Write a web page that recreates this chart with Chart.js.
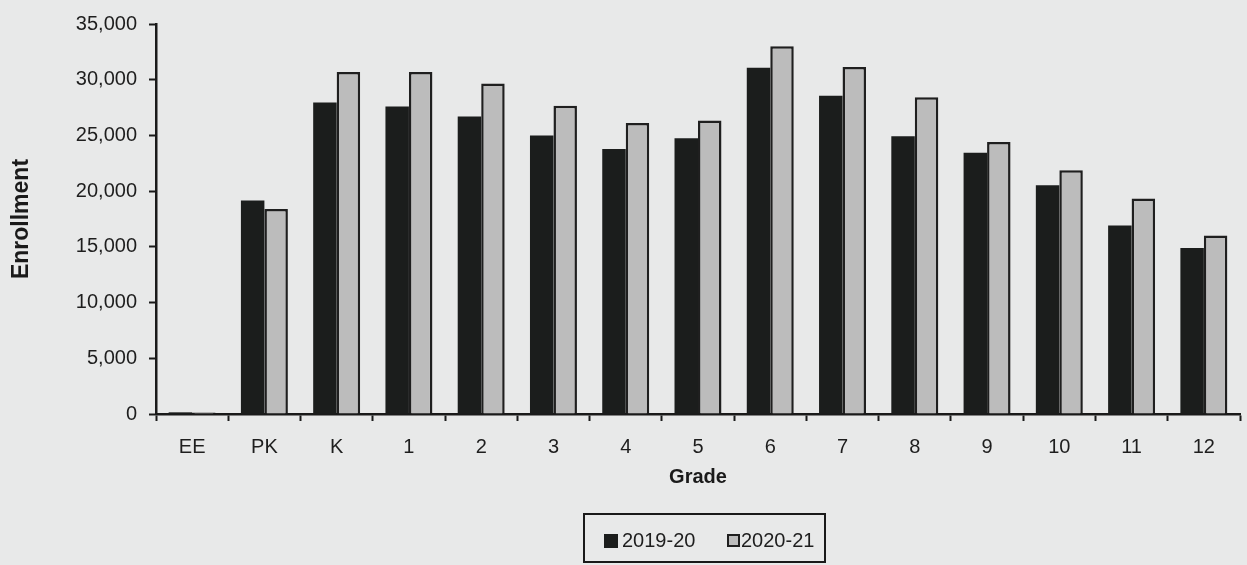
<!DOCTYPE html>
<html>
<head>
<meta charset="utf-8">
<title>Enrollment by Grade</title>
<script src="https://cdn.jsdelivr.net/npm/chart.js@4.4.1/dist/chart.umd.min.js"></script>
<style>
  html, body { margin: 0; padding: 0; background: #e8e9e9; }
  #wrap { position: relative; width: 1247px; height: 565px; }
  #grafico { position: absolute; left: 0; top: 0; }
  .legenda {
    position: absolute; left: 583px; top: 513px; width: 243px; height: 50px;
    border: 2px solid #1a1a1a; box-sizing: border-box;
    font-family: 'Liberation Sans', Arial, sans-serif;
    font-size: 20px; color: #1e1e1e; white-space: nowrap;
  }
  .legenda .caixa { position: absolute; top: 19px; width: 14px; height: 14px; box-sizing: border-box; }
  .legenda .txt { position: absolute; top: 13px; line-height: 24px; }
</style>
</head>
<body>
<div id="wrap">
  <canvas id="grafico" width="1247" height="565"></canvas>
  <div class="legenda">
    <span class="caixa" style="left:19px;background:#1b1d1c;"></span>
    <span class="txt" style="left:37px;">2019-20</span>
    <span class="caixa" style="left:142px;background:#bcbcbc;border:2px solid #1f1f1f;width:13px;height:13px;"></span>
    <span class="txt" style="left:156px;">2020-21</span>
  </div>
</div>
<script>
// dados do gráfico
const grades = ['EE', 'PK', 'K', '1', '2', '3', '4', '5', '6', '7', '8', '9', '10', '11', '12'];
const enroll1920 = [150, 19150, 27960, 27600, 26700, 25000, 23780, 24750, 31080, 28560, 24930, 23450, 20540, 16920, 14900];
const enroll2021 = [130, 18400, 30700, 30700, 29650, 27670, 26120, 26330, 33000, 31140, 28430, 24400, 21880, 19350, 16030];
const yTicks = [0, 5000, 10000, 15000, 20000, 25000, 30000, 35000];

const fonte = "'Liberation Sans', Arial, sans-serif";

const ctx = document.getElementById('grafico').getContext('2d');
new Chart(ctx, {
    type: 'bar',
    data: {
        labels: grades,
        datasets: [{
            label: '2019-20',
            data: enroll1920,
            backgroundColor: '#1b1d1c',
            borderColor: '#1b1d1c',
            borderWidth: 0,
            barPercentage: 1,
            categoryPercentage: 0.65
        },
        {
            label: '2020-21',
            data: enroll2021,
            backgroundColor: '#bcbcbc',
            borderColor: '#1f1f1f',
            borderWidth: 2.5,
            barPercentage: 1,
            categoryPercentage: 0.65
        }]
    },
    options: {
        responsive: false,
        animation: false,
        devicePixelRatio: 1,
        layout: { padding: { left: 0, right: 7, top: 21, bottom: 0 } },
        plugins: { legend: { display: false }, tooltip: { enabled: false } },
        scales: {
            x: {
                afterFit: s => { s.height = 151; },
                grid: {
                    display: true, drawOnChartArea: false, drawTicks: true,
                    tickLength: 7, tickWidth: 2, tickColor: '#1a1a1a'
                },
                border: { display: true, color: '#1a1a1a', width: 2.5 },
                ticks: { color: '#1e1e1e', padding: 14, font: { family: fonte, size: 20 } },
                title: {
                    display: true, text: 'Grade', color: '#1a1a1a',
                    font: { family: fonte, size: 20, weight: 'bold' },
                    padding: { top: 0, bottom: 76 }
                }
            },
            y: {
                min: 0,
                max: 35000,
                afterFit: s => { s.width = 156; },
                afterBuildTicks: s => { s.ticks = yTicks.map(v => ({ value: v })); },
                grid: {
                    display: true, drawOnChartArea: false, drawTicks: true,
                    tickLength: 7, tickWidth: 2, tickColor: '#1a1a1a'
                },
                border: { display: true, color: '#1a1a1a', width: 2.5 },
                ticks: {
                    color: '#1e1e1e', padding: 12,
                    font: { family: fonte, size: 20 },
                    callback: v => v.toLocaleString('en-US')
                },
                title: {
                    display: true, text: 'Enrollment', color: '#1a1a1a',
                    font: { family: fonte, size: 23, weight: 'bold' },
                    padding: { top: 8, bottom: 0 }
                }
            }
        }
    }
});
</script>
</body>
</html>
